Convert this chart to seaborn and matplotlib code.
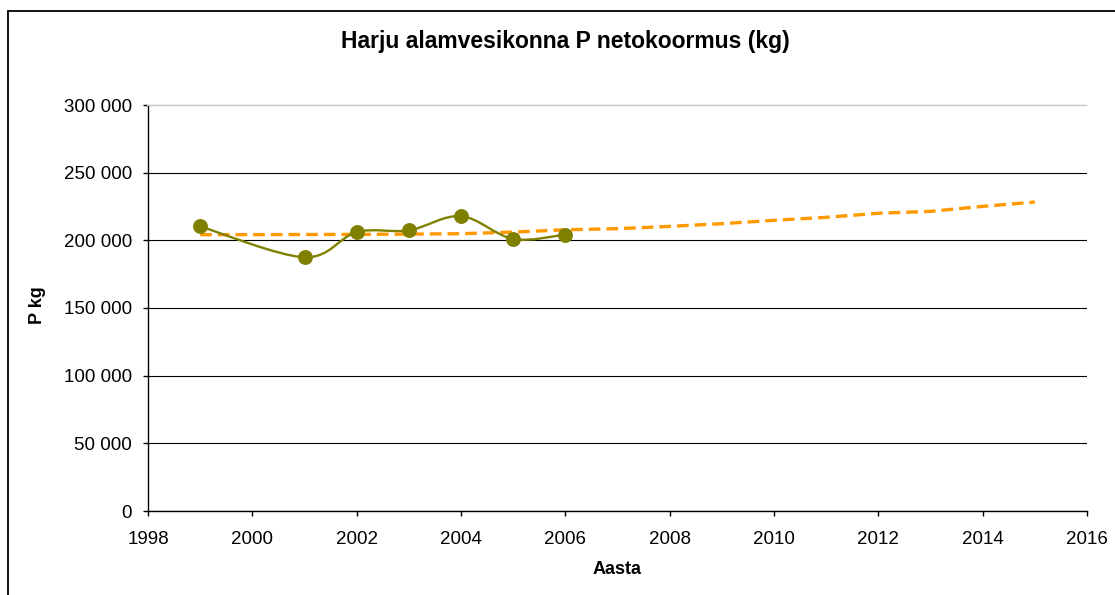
import numpy as np
import pandas as pd
import seaborn as sns
import matplotlib.pyplot as plt
from matplotlib.path import Path
from matplotlib.patches import PathPatch, Rectangle
from matplotlib.ticker import FuncFormatter, MultipleLocator

# measured net load (kg)
years = [1999, 2001, 2002, 2003, 2004, 2005, 2006]
load_kg = [210300, 187500, 206100, 207400, 217900, 201000, 204200]

# projection / trend (dashed)
trend_years = list(range(1999, 2016))
trend_kg = [204200, 204200, 204300, 204400, 204600, 204900, 206100, 207800,
            208600, 210300, 212300, 214800, 217000, 220000, 221400, 225100, 228300]

TITLE = "Harju alamvesikonna P netokoormus (kg)"
XLABEL = "Aasta"
YLABEL = "P kg"

OLIVE = "#808000"
ORANGE = "#FF9900"


def smooth_path(xs, ys):
    # Excel-style smoothed line: Catmull-Rom converted to cubic Bezier segments
    pts = np.column_stack([xs, ys]).astype(float)
    n = len(pts)
    verts = [pts[0]]
    codes = [Path.MOVETO]
    for i in range(n - 1):
        p0 = pts[i - 1] if i > 0 else pts[i]
        p1 = pts[i]
        p2 = pts[i + 1]
        p3 = pts[i + 2] if i + 2 < n else pts[i + 1]
        c1 = p1 + (p2 - p0) / 6
        c2 = p2 - (p3 - p1) / 6
        verts += [c1, c2, p2]
        codes += [Path.CURVE4] * 3
    return Path(verts, codes)


def main():
    sns.set_theme(style="white")
    plt.rcParams["font.family"] = ["Liberation Sans", "DejaVu Sans"]
    plt.rcParams["text.color"] = "black"

    measured = pd.DataFrame({"year": years, "kg": load_kg})
    trend = pd.DataFrame({"year": trend_years, "kg": trend_kg})

    fig = plt.figure(figsize=(11.15, 5.95), dpi=100)
    ax = fig.add_axes([148 / 1115, 1 - 511 / 595, (1087 - 148) / 1115, (511 - 105) / 595])

    # outer chart frame (cut off at right and bottom as in the source)
    fig.patches.append(Rectangle((8 / 1115, -0.2), 1.5, 1.2 - 11 / 595,
                                 transform=fig.transFigure, fill=False,
                                 edgecolor="black", lw=1.3, zorder=0))

    sns.lineplot(data=trend, x="year", y="kg", ax=ax, color=ORANGE, lw=2.4,
                 dashes=False, zorder=3)
    ax.lines[-1].set_dashes([3.5, 1.8])

    ax.add_patch(PathPatch(smooth_path(measured["year"], measured["kg"]),
                           facecolor="none", edgecolor=OLIVE, lw=1.7, zorder=4))
    sns.scatterplot(data=measured, x="year", y="kg", ax=ax, color=OLIVE, s=115,
                    edgecolor=OLIVE, linewidth=0, zorder=5)

    ax.set_xlim(1998, 2016)
    ax.set_ylim(0, 300000)
    ax.xaxis.set_major_locator(MultipleLocator(2))
    ax.yaxis.set_major_locator(MultipleLocator(50000))
    ax.yaxis.set_major_formatter(FuncFormatter(lambda v, p: f"{int(v):,}".replace(",", " ")))

    ax.yaxis.grid(True, color="black", lw=0.8)
    ax.set_axisbelow(True)
    ax.get_ygridlines()[-1].set_color("#ececec")

    for side in ["left", "bottom"]:
        ax.spines[side].set_color("black")
        ax.spines[side].set_linewidth(1.0)
    ax.spines["right"].set_visible(False)
    ax.spines["top"].set_color("#ececec")

    ax.tick_params(axis="both", direction="out", length=3.6, width=1, color="black",
                   labelsize=13.5, labelcolor="black", left=True, bottom=True)
    ax.tick_params(axis="x", pad=11)
    ax.tick_params(axis="y", pad=8)

    ax.set_xlabel("")
    ax.set_ylabel("")
    fig.text(565 / 1115, 1 - 48 / 595, TITLE, ha="center", va="baseline",
             fontsize=16.5, fontweight="bold")
    fig.text(617 / 1115, 1 - 570 / 595, XLABEL, ha="center", va="center",
             fontsize=13, fontweight="bold")
    fig.text(38 / 1115, 1 - 305 / 595, YLABEL, ha="center", va="center",
             fontsize=13, fontweight="bold", rotation=90)

    plt.savefig("out.png", dpi=100)
    plt.close()


if __name__ == "__main__":
    main()
